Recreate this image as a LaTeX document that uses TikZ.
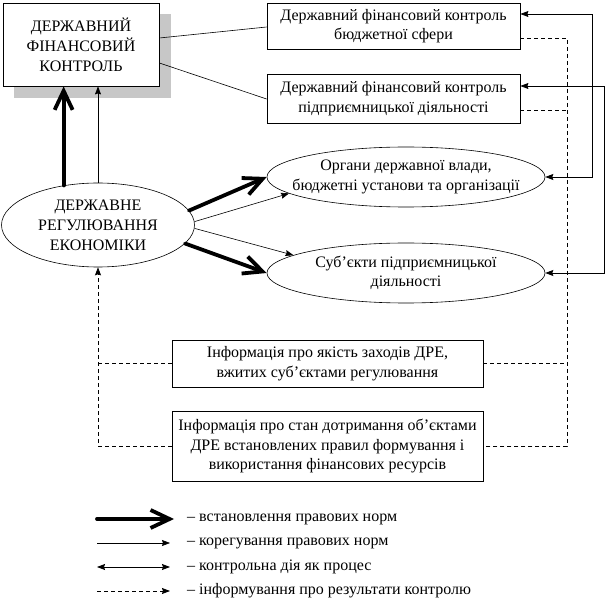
\documentclass[tikz,border=0pt]{standalone}
\usepackage{fontspec}
\setmainfont{Liberation Serif}
\usetikzlibrary{arrows.meta,shapes.geometric,calc}
\begin{document}
\begin{tikzpicture}[x=1pt,y=-1pt,
  txt/.style={font=\fontsize{16}{19.5}\selectfont, align=center, inner sep=0pt},
  bigtxt/.style={font=\fontsize{16}{20}\selectfont, align=center, inner sep=0pt},
  box/.style={draw, line width=0.8pt, txt},
  ell/.style={draw, ellipse, line width=0.6pt, inner sep=0pt},
  thin/.style={line width=0.6pt},
  thickar/.style={line width=3.8pt, line cap=round, -{Straight Barb[length=19pt,width=18pt]}},
  thinar/.style={thin, -{Stealth[length=8pt,width=6pt,inset=1pt]}},
  ctrl/.style={line width=0.8pt, {Stealth[length=8pt,width=6pt,inset=1pt]}-{Stealth[length=8pt,width=6pt,inset=1pt]}},
  info/.style={line width=0.8pt, dash pattern=on 4pt off 3pt},
  infoar/.style={info, -{Stealth[length=8pt,width=6pt,inset=1pt]}},
]
\useasboundingbox (0,0) rectangle (614,604);
% main box with shadow
\fill[black!22] (14,14) rectangle (171,98);
\node[draw, line width=0.8pt, fill=white, bigtxt, minimum width=156pt, minimum height=83pt] (dfk) at (81,44.5) {ДЕРЖАВНИЙ\\ФІНАНСОВИЙ\\КОНТРОЛЬ};
\node[box, minimum width=253pt, minimum height=46pt] (b1) at (393.5,26) {Державний фінансовий контроль\\бюджетної сфери};
\node[box, minimum width=253pt, minimum height=49pt] (b2) at (393.5,98.5) {Державний фінансовий контроль\\підприємницької діяльності};
\node[ell, minimum width=278pt, minimum height=60pt] (e1) at (406,177) {};
\node[txt] (e1t) at (e1.center) {Органи державної влади,\\бюджетні установи та організації};
\node[ell, minimum width=278pt, minimum height=60pt] (e2) at (406,273) {};
\node[txt] (e2t) at (e2.center) {Суб’єкти підприємницької\\діяльності};
\node[ell, minimum width=193pt, minimum height=84pt] (dre) at (98,225) {};
\node[bigtxt] (dret) at (dre.center) {ДЕРЖАВНЕ\\РЕГУЛЮВАННЯ\\ЕКОНОМІКИ};
\node[box, minimum width=311pt, minimum height=47pt] (i1) at (327.5,363.5) {Інформація про якість заходів ДРЕ,\\вжитих суб’єктами регулювання};
\node[box, minimum width=311pt, minimum height=70pt] (i2) at (327.5,446) {Інформація про стан дотримання об’єктами\\ДРЕ встановлених правил формування і\\використання фінансових ресурсів};

% links box -> boxes
\draw[thin] ([yshift=6.5pt]dfk.east) -- ([yshift=-1pt]b1.west);
\draw[thin] ([yshift=-18.5pt]dfk.east) -- ([yshift=-0.5pt]b2.west);

% vertical arrows
\draw[thickar] (dre.131) -- (dre.131 |- dfk.south);
\draw[thinar] (dre.north) -- (dre.north |- dfk.south);

% to ellipses
\draw[thickar] (dre.9) -- (e1.west);
\draw[thickar] (dre.-12) -- (e2.west);
\draw[thinar] (dre.2) -- (e1.188);
\draw[thinar] (dre.-2) -- (e2.171);

% control arrows
\draw[ctrl] ([yshift=12pt]b1.east) -- ++(72,0) coordinate (c1) -- (c1 |- e1.east) -- (e1.east);
\draw[ctrl] ([yshift=12.5pt]b2.east) -- ++(84,0) coordinate (c2) -- (c2 |- e2.east) -- (e2.east);

% info dashed
\draw[info] ([yshift=-12pt]b1.east) -- ++(47,0) coordinate (r1) -- (r1 |- i2.east) -- (i2.east);
\draw[info] ([yshift=-12pt]b2.east) -- ++(47,0);
\draw[info] (i1.east) -- (r1 |- i1.east);
\draw[info] (i1.west) -- (i1.west -| dre.south);
\draw[infoar] (i2.west) -| (dre.south);

% legend
\coordinate (l1a) at (97,519); \coordinate (l1b) at (174,519);
\coordinate (l2a) at (97,543); \coordinate (l2b) at (170,543);
\coordinate (l3a) at (97,567); \coordinate (l3b) at (170,567);
\coordinate (l4a) at (97,591); \coordinate (l4b) at (170,591);
\draw[thickar] (l1a) -- (l1b);
\draw[thinar] (l2a) -- (l2b);
\draw[ctrl] (l3a) -- (l3b);
\draw[infoar] (l4a) -- (l4b);
\node[txt, anchor=west] (t1) at (187,519) {– встановлення правових норм};
\node[txt, anchor=west] (t2) at (187,543) {– корегування правових норм};
\node[txt, anchor=west] (t3) at (187,567) {– контрольна дія як процес};
\node[txt, anchor=west] (t4) at (187,591) {– інформування про результати контролю};
\end{tikzpicture}
\end{document}
